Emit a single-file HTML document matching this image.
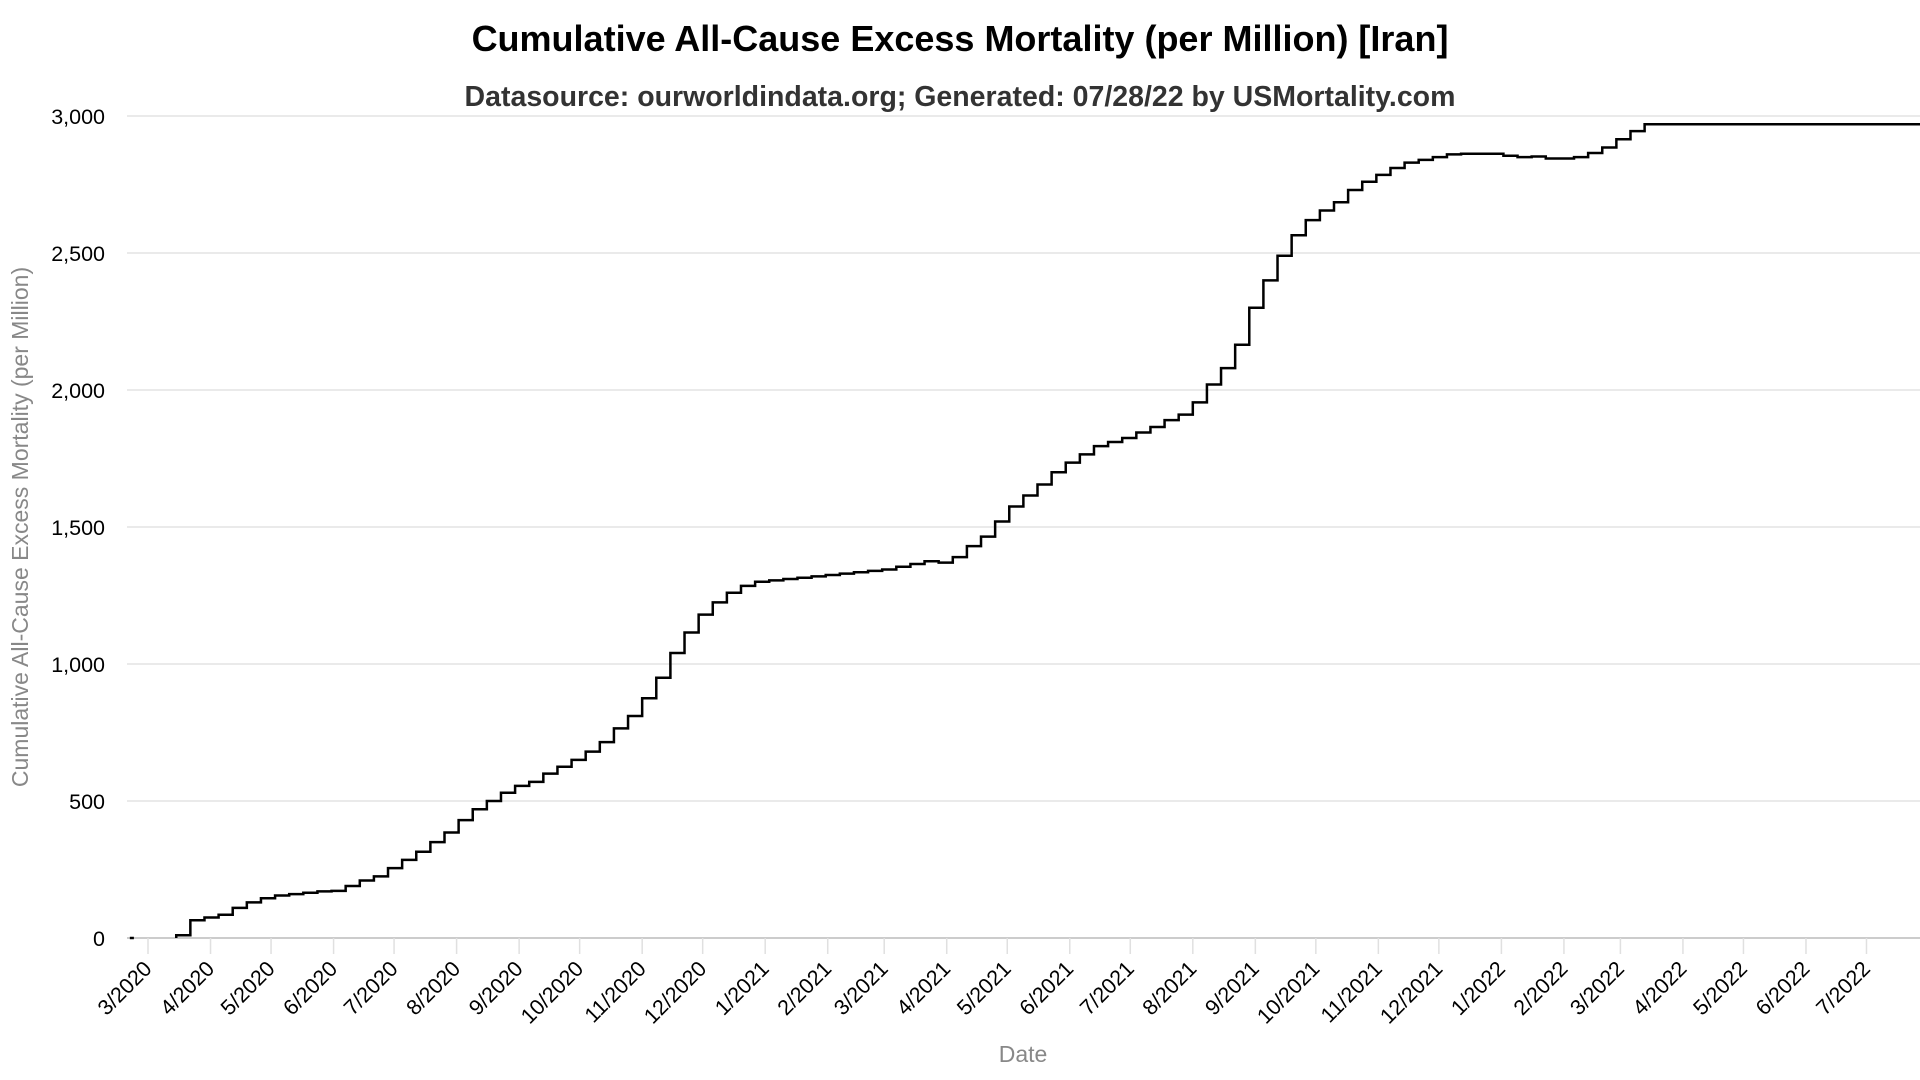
<!DOCTYPE html>
<html><head><meta charset="utf-8">
<style>
html,body{margin:0;padding:0;background:#fff;}
svg{display:block;font-family:"Liberation Sans",Arial,sans-serif;}
</style></head>
<body>
<svg id="chart" width="1920" height="1080" viewBox="0 0 1920 1080">
<text x="960" y="51" text-anchor="middle" font-size="36" font-weight="bold" fill="#000">Cumulative All-Cause Excess Mortality (per Million) [Iran]</text>
<text x="960" y="106" text-anchor="middle" font-size="28.5" font-weight="bold" fill="#333">Datasource: ourworldindata.org; Generated: 07/28/22 by USMortality.com</text>
<g id="grid"></g>
<g id="xaxis"></g>
<g id="yaxis"></g>
<g id="series"></g>
<text x="0" y="0" transform="translate(28,527) rotate(-90)" text-anchor="middle" font-size="23" fill="#888">Cumulative All-Cause Excess Mortality (per Million)</text>
<text x="1023" y="1062" text-anchor="middle" font-size="23" fill="#888">Date</text>
</svg>
<script>
const seriesStart = "2020-03-15";
const stepDays = 7.0;
const weeklyValues = [10,65,75,85,110,130,145,155,160,165,170,172,190,210,225,255,285,315,350,385,430,470,500,530,555,570,600,625,650,680,715,765,810,875,950,1040,1115,1180,1225,1260,1285,1300,1305,1310,1315,1320,1325,1330,1335,1340,1345,1355,1365,1375,1370,1390,1430,1465,1520,1575,1615,1655,1700,1735,1765,1795,1810,1825,1845,1865,1890,1910,1955,2020,2080,2165,2300,2400,2490,2565,2620,2655,2685,2730,2760,2785,2810,2830,2840,2850,2860,2862,2862,2862,2855,2850,2852,2845,2845,2850,2865,2885,2915,2945,2970];
const seriesEnd = "2022-07-28";
const yTicks = [0,500,1000,1500,2000,2500,3000];
const yTickLabels = ["0","500","1,000","1,500","2,000","2,500","3,000"];
const xTickDates = ["2020-03-01","2020-04-01","2020-05-01","2020-06-01","2020-07-01","2020-08-01","2020-09-01","2020-10-01","2020-11-01","2020-12-01","2021-01-01","2021-02-01","2021-03-01","2021-04-01","2021-05-01","2021-06-01","2021-07-01","2021-08-01","2021-09-01","2021-10-01","2021-11-01","2021-12-01","2022-01-01","2022-02-01","2022-03-01","2022-04-01","2022-05-01","2022-06-01","2022-07-01"];
const xTickLabels = ["3/2020","4/2020","5/2020","6/2020","7/2020","8/2020","9/2020","10/2020","11/2020","12/2020","1/2021","2/2021","3/2021","4/2021","5/2021","6/2021","7/2021","8/2021","9/2021","10/2021","11/2021","12/2021","1/2022","2/2022","3/2022","4/2022","5/2022","6/2022","7/2022"];

const NS="http://www.w3.org/2000/svg";
const L=127,R=1920,T=116,B=938;
const d0=Date.UTC(2020,2,1), DAY=86400000, PXD=2.017, X0=148;
function dayOf(s){const p=s.split('-');return (Date.UTC(+p[0],p[1]-1,+p[2])-d0)/DAY;}
function x(days){return X0+days*PXD;}
function y(v){return B-(v/3000)*(B-T);}
function mk(tag,attrs,parent){const e=document.createElementNS(NS,tag);for(const k in attrs)e.setAttribute(k,attrs[k]);parent.appendChild(e);return e;}
const grid=document.getElementById('grid'),xa=document.getElementById('xaxis'),ya=document.getElementById('yaxis'),sr=document.getElementById('series');
yTicks.forEach((v,i)=>{
  const ln=mk('line',{x1:L,x2:R,y1:y(v),y2:y(v),stroke:v===0?'#ccc':'#e3e3e3','stroke-width':v===0?2:1.5},grid);
  
  
  const t=mk('text',{x:105,y:y(v)+8,'text-anchor':'end','font-size':21.5,fill:'#000'},ya);
  t.textContent=yTickLabels[i];
  
  
});
xTickDates.forEach((d,i)=>{
  const xx=x(dayOf(d));
  const tk=mk('line',{x1:xx,x2:xx,y1:B,y2:B+16,stroke:'#e0e0e0','stroke-width':1.5},xa);
  
  
  const t=mk('text',{x:0,y:0,'text-anchor':'end','font-size':21.5,fill:'#000',transform:`translate(${xx+5},${B+32}) rotate(-45)`},xa);
  t.textContent=xTickLabels[i];
  
  
});
const s0=mk('line',{x1:x(-9),x2:x(-7),y1:y(0),y2:y(0),stroke:'#000','stroke-width':2.5},sr);


const sd=dayOf(seriesStart);
let dstr='';
weeklyValues.forEach((v,i)=>{
  const xs=x(sd+stepDays*i);
  if(i===0) dstr+=`M${xs},${y(0)}L${xs},${y(v)}`;
  else dstr+=`L${xs},${y(weeklyValues[i-1])}L${xs},${y(v)}`;
});
dstr+=`L${Math.min(R,x(dayOf(seriesEnd)))},${y(weeklyValues[weeklyValues.length-1])}`;
const p=mk('path',{d:dstr,fill:'none',stroke:'#000','stroke-width':2.5},sr);


</script>
</body></html>
